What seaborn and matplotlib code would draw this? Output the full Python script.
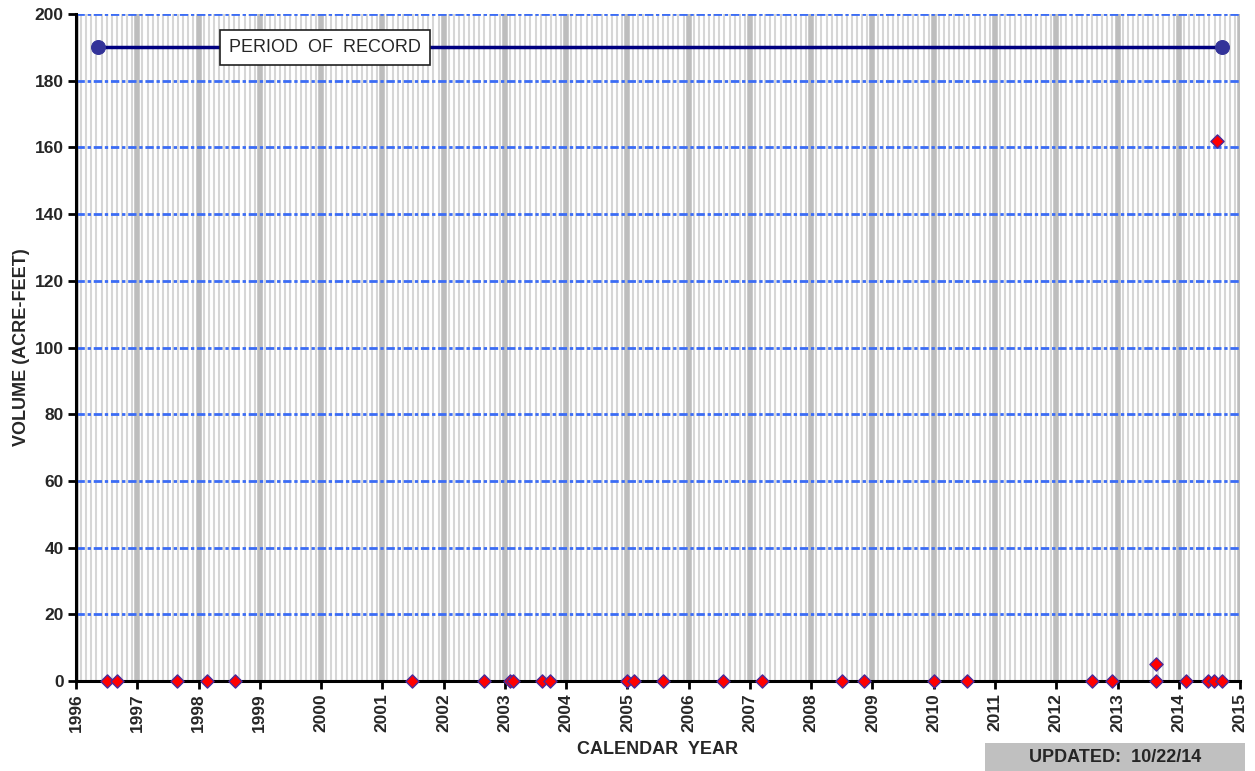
import numpy as np
import pandas as pd
import seaborn as sns
from matplotlib import pyplot as plt
from matplotlib.ticker import MultipleLocator
from matplotlib.patches import Rectangle

# sample dates (decimal year) and volumes
sample_year = [1996.51, 1996.67, 1997.65, 1998.14, 1998.60, 2001.48, 2002.66,
               2003.08, 2003.13, 2003.61, 2003.74, 2004.99, 2005.11, 2005.58,
               2006.56, 2007.20, 2008.50, 2008.86, 2010.01, 2010.54, 2012.59,
               2012.91, 2013.63, 2013.63, 2014.12, 2014.48, 2014.58, 2014.63,
               2014.71]
volume = [0, 0, 0, 0, 0, 0, 0,
          0, 0, 0, 0, 0, 0, 0,
          0, 0, 0, 0, 0, 0, 0,
          0, 0, 5, 0, 0, 0, 162,
          0]

# period of record
por_year = [1996.36, 2014.71]
por_level = [190, 190]

year_ticks = list(range(1996, 2016))
vol_ticks = list(range(0, 201, 20))

sns.set_style('white')
plt.rcParams['font.family'] = ['Liberation Sans', 'DejaVu Sans']
plt.rcParams['font.weight'] = 'bold'

df = pd.DataFrame({'year': sample_year, 'volume': volume})
por = pd.DataFrame({'year': por_year, 'volume': por_level})

fig = plt.figure(figsize=(12.55, 7.71), dpi=100)
ax = fig.add_axes([0.0606, 0.1167, 0.9275, 0.8651])

ax.set_xlim(1996, 2015)
ax.set_ylim(0, 200)

#monthly grid + yearly grid
ax.xaxis.set_minor_locator(MultipleLocator(1/12))
ax.grid(which='minor', axis='x', color='#d6d6d6', linewidth=1.5, zorder=0)
ax.grid(which='major', axis='x', color='#bdbdbd', linewidth=4, zorder=0)
ax.grid(which='major', axis='y', color='#3b6cf5', linewidth=2,
        linestyle=(0, (3, 1, 1.2, 1)), zorder=1)
ax.set_axisbelow(True)

sns.lineplot(data=por, x='year', y='volume', ax=ax, color='#000080',
             linewidth=2.5, marker='o', markersize=10,
             markerfacecolor='#333399', markeredgecolor='#333399', zorder=3)
sns.scatterplot(data=df, x='year', y='volume', ax=ax, marker='D', s=45,
                color='red', edgecolor='#4b2a9a', linewidth=1, zorder=5,
                clip_on=False)

ax.text(2000.07, 190, 'PERIOD  OF  RECORD', ha='center', va='center',
        fontsize=13, fontweight='normal', zorder=6,
        bbox=dict(boxstyle='square,pad=0.5', facecolor='white',
                  edgecolor='#202020', linewidth=1.2))

ax.set_xticks(year_ticks)
ax.set_yticks(vol_ticks)
ax.set_xticklabels([str(y) for y in year_ticks], rotation=90, fontsize=12.5,
                   fontweight='bold')
ax.set_yticklabels([str(v) for v in vol_ticks], fontsize=12.5, fontweight='bold')
ax.tick_params(axis='both', which='major', direction='out', length=6,
               width=2, color='black', bottom=True, left=True, pad=3)
ax.tick_params(axis='x', which='minor', length=0)

for side in ['top', 'right']:
    ax.spines[side].set_visible(False)
for side in ['left', 'bottom']:
    ax.spines[side].set_color('black')
    ax.spines[side].set_linewidth(2.2)

ax.set_xlabel('CALENDAR  YEAR', fontsize=13, fontweight='bold', labelpad=6)
ax.set_ylabel('VOLUME (ACRE-FEET)', fontsize=13, fontweight='bold', labelpad=3)

# updated stamp, bottom right
fig.patches.append(Rectangle((985 / 1255, 0), 260 / 1255, 28 / 771,
                             transform=fig.transFigure, facecolor='#c0c0c0',
                             edgecolor='none'))
fig.text(1115 / 1255, 14 / 771, 'UPDATED:  10/22/14', ha='center', va='center',
         fontsize=13, fontweight='bold')

fig.savefig('out.png', dpi=100)
